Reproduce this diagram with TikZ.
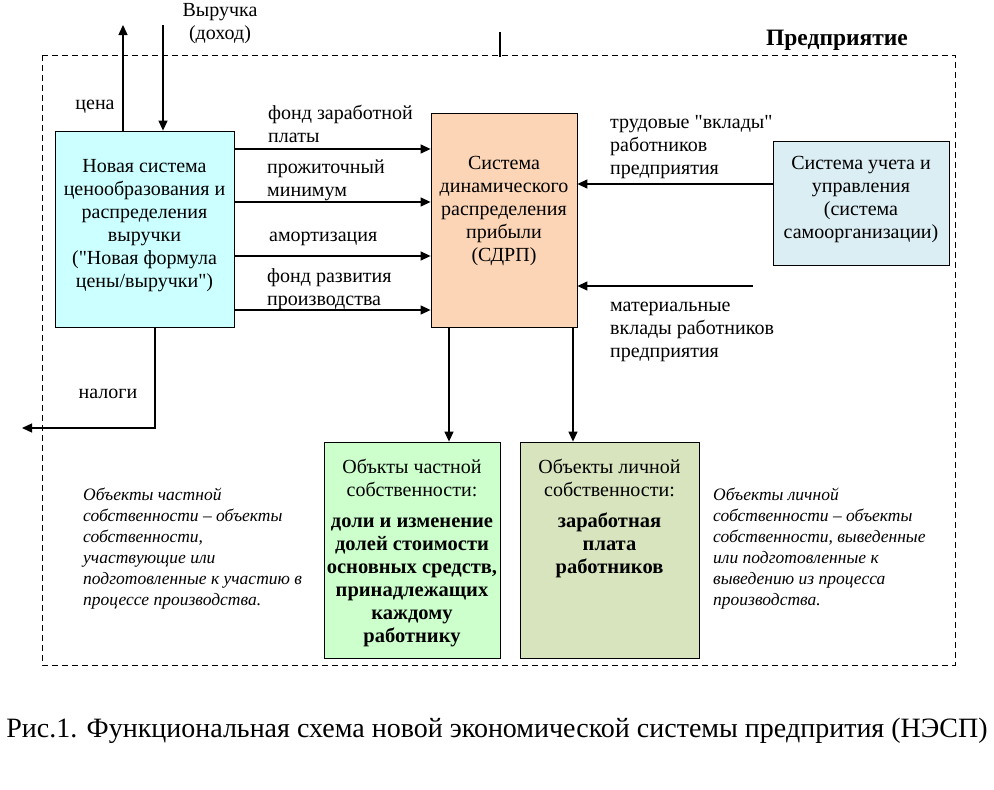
\documentclass[tikz,border=0pt]{standalone}
\usepackage{fontspec}
\setmainfont{Liberation Serif}
\usetikzlibrary{arrows.meta}
\definecolor{cenoblue}{HTML}{CCFFFF}
\definecolor{sdrppeach}{HTML}{FBD5B5}
\definecolor{uchetblue}{HTML}{DBEEF4}
\definecolor{chastgreen}{HTML}{CCFFCC}
\definecolor{lichgreen}{HTML}{D7E4BD}
\newcommand{\bld}{\fontsize{20.5}{23}\selectfont\bfseries}

\begin{document}
\begin{tikzpicture}[x=1pt,y=-1pt,
		box/.style={draw, line width=0.8pt, inner sep=0pt},
		txt/.style={align=center, inner sep=0pt, font=\fontsize{20}{23}\selectfont},
		lbl/.style={align=left, inner sep=0pt, anchor=west, font=\fontsize{20}{23}\selectfont},
		note/.style={align=left, inner sep=0pt, anchor=west, font=\fontsize{17.5}{21}\selectfont\itshape},
		arr/.style={line width=1.3pt, -{Triangle[length=10pt,width=9pt]}}]
		\useasboundingbox (0,0) rectangle (994,790);
		
		% enterprise frame
		\draw[line width=0.8pt, dash pattern=on 6pt off 4pt] (42,55) rectangle (955,665);
		\draw[line width=1.5pt] (500,32) -- (500,57);
		\node[inner sep=0pt, font=\fontsize{23.5}{26}\selectfont\bfseries] (pred) at (837,40) {Предприятие};
		
		% boxes
		\node[box, fill=cenoblue, minimum width=179pt, minimum height=196pt] (nsc) at (144.5,229) {};
		\node[txt] (nsctxt) at (144.5,226) {Новая система\\ценообразования и\\распределения\\выручки\\(\textquotedbl Новая формула\\цены/выручки\textquotedbl)};
		\node[box, fill=sdrppeach, minimum width=146pt, minimum height=214pt] (sdrp) at (504,220) {};
		\node[txt] (sdrptxt) at (504,211) {Система\\динамического\\распределения\\прибыли\\(СДРП)};
		\node[box, fill=uchetblue, minimum width=176pt, minimum height=124pt] (sup) at (861,203) {};
		\node[txt] (suptxt) at (861,200) {Система учета и\\управления\\(система\\самоорганизации)};
		\node[box, fill=chastgreen, minimum width=176pt, minimum height=216pt] (chast) at (412,550) {};
		\node[txt] (chasttxt) at (412,553) {Объкты частной\\собственности:\\[8pt]\bld доли и изменение\\\bld долей стоимости\\\bld основных средств,\\\bld принадлежащих\\\bld каждому\\\bld работнику};
		\node[box, fill=lichgreen, minimum width=179pt, minimum height=216pt] (lich) at (609.5,550) {};
		\node[txt] (lichtxt) at (609.5,518.5) {Объекты личной\\собственности:\\[8pt]\bld заработная\\\bld плата\\\bld работников};
		
		% labels
		\node[txt] (vyr) at (220,24) {Выручка\\(доход)};
		\node[txt] (cena) at (95,107) {цена};
		\node[txt] (nalogi) at (108,394) {налоги};
		\node[lbl] (fzp) at (268,124) {фонд заработной\\платы};
		\node[lbl] (pm) at (267,180) {прожиточный\\минимум};
		\node[lbl] (amort) at (269,239) {амортизация};
		\node[lbl] (frp) at (267,289) {фонд развития\\производства};
		\node[lbl] (trud) at (610,147) {трудовые \textquotedbl вклады\textquotedbl\\работников\\предприятия};
		\node[lbl] (mat) at (610,332) {материальные\\вклады работников\\предприятия};
		\node[note] (chastnote) at (83,549) {Объекты частной\\собственности – объекты\\собственности,\\участвующие или\\подготовленные к участию в\\процессе производства.};
		\node[note] (lichnote) at (713,549) {Объекты личной\\собственности – объекты\\собственности, выведенные\\или подготовленные к\\выведению из процесса\\производства.};
		
		% free ends
		\coordinate (cenatop) at (123,25);
		\coordinate (vyrtop) at (163,25);
		\coordinate (nalend) at (22,428);
		\coordinate (matstart) at (753,286);
		
		% connectors
		\draw[arr] (nsc.north -| cenatop) -- (cenatop);
		\draw[arr] (vyrtop) -- (nsc.north -| vyrtop);
		\draw[arr] (nsc.south -| 155,0) |- (nalend);
		\draw[arr] (nsc.east |- 0,149) -- (sdrp.west |- 0,149);
		\draw[arr] (nsc.east |- 0,202) -- (sdrp.west |- 0,202);
		\draw[arr] (nsc.east |- 0,256) -- (sdrp.west |- 0,256);
		\draw[arr] (nsc.east |- 0,310) -- (sdrp.west |- 0,310);
		\draw[arr] (sup.west |- 0,184) -- (sdrp.east |- 0,184);
		\draw[arr] (matstart) -- (sdrp.east |- matstart);
		\draw[arr] (sdrp.south -| 449,0) -- (chast.north -| 449,0);
		\draw[arr] (sdrp.south -| 573,0) -- (lich.north -| 573,0);
		
		% caption
		\node[inner sep=0pt, font=\fontsize{28}{32}\selectfont] (caption) at (497,731) {Рис.1. Функциональная схема новой экономической системы предпрития (НЭСП)};
\end{tikzpicture}
\end{document}
